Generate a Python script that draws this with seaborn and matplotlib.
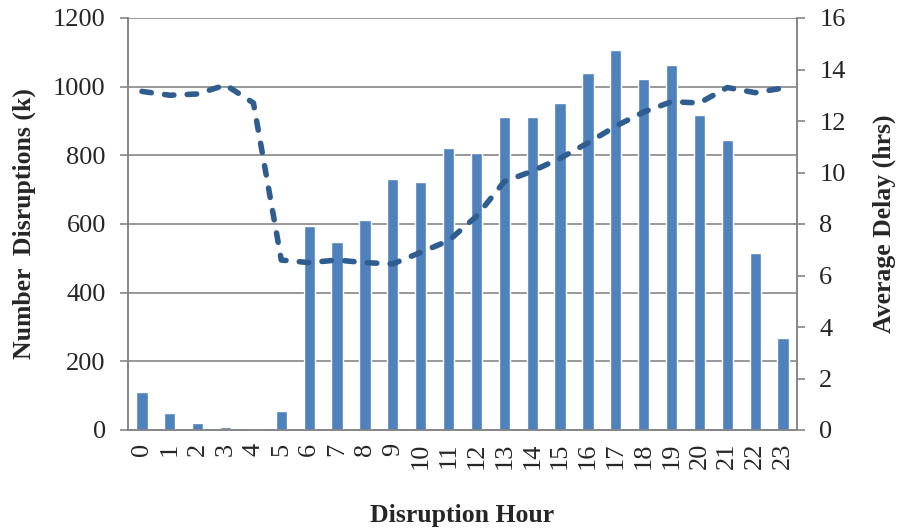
import matplotlib
matplotlib.use("Agg")
import matplotlib.pyplot as plt
import seaborn as sns
import pandas as pd

hours = list(range(24))
disruptions_k = [110, 50, 20, 8, 3, 55, 594, 549, 612, 732, 723, 821,
                 807, 912, 912, 952, 1040, 1108, 1022, 1064, 918, 845, 516, 268]
avg_delay_hrs = [13.15, 13.0, 13.05, 13.4, 12.7, 6.6, 6.5, 6.6, 6.5, 6.45, 6.9, 7.35,
                 8.3, 9.65, 10.05, 10.55, 11.15, 11.8, 12.35, 12.75, 12.7, 13.3, 13.1, 13.28]
left_ticks = [0, 200, 400, 600, 800, 1000, 1200]
right_ticks = [0, 2, 4, 6, 8, 10, 12, 14, 16]

df = pd.DataFrame({"hour": hours, "count": disruptions_k, "delay": avg_delay_hrs})

sns.set_theme(style="white")
plt.rcParams["font.family"] = ["Liberation Serif", "DejaVu Serif"]

GRAY = "#868686"
BAR = "#4F81BD"
LINE = "#2F5D8F"
TICK_FS = 19
LABEL_FS = 18.5

fig = plt.figure(figsize=(8.98, 5.31), dpi=100)
ax = fig.add_axes([128 / 898, 1 - 430 / 531, (797 - 128) / 898, (430 - 18) / 531])

sns.barplot(data=df, x="hour", y="count", color=BAR, width=0.4, saturation=1,
            ax=ax, zorder=2)
ax.set_ylim(0, 1200)
ax.set_xlim(-0.5, 23.5)
ax.set_yticks(left_ticks)
ax.yaxis.grid(True, color=GRAY, linewidth=1.2, zorder=0)
ax.set_axisbelow(True)

ax2 = ax.twinx()
sns.lineplot(x=hours, y=avg_delay_hrs, ax=ax2, color=LINE, linewidth=4,
             linestyle=(0, (1.7, 2.4)), dash_capstyle="round", zorder=3)
ax2.set_ylim(0, 16)
ax2.set_yticks(right_ticks)
ax2.set_xlim(-0.5, 23.5)

for a in (ax, ax2):
    a.spines["top"].set_visible(False)
    for s in ("left", "right", "bottom"):
        a.spines[s].set_color(GRAY)
        a.spines[s].set_linewidth(1.2)

ax.set_xticks(hours)
ax.set_xticklabels([str(h) for h in hours], rotation=90, fontsize=TICK_FS)
ax.set_xticks([h - 0.5 for h in hours] + [23.5], minor=True)
ax.tick_params(axis="x", which="major", length=0, pad=9)
ax.tick_params(axis="x", which="minor", length=6, width=1.2, color=GRAY, direction="out")
ax.tick_params(axis="y", which="major", length=6, width=1.2, color=GRAY,
               direction="out", labelsize=TICK_FS, pad=10, left=True)
ax2.tick_params(axis="y", which="major", length=6, width=1.2, color=GRAY,
                direction="out", labelsize=TICK_FS, pad=10, right=True)

ax.set_xlabel("Disruption Hour", fontsize=LABEL_FS, fontweight="bold")
ax.set_ylabel("Number  Disruptions (k)", fontsize=LABEL_FS, fontweight="bold")
ax2.set_ylabel("Average Delay (hrs)", fontsize=LABEL_FS, fontweight="bold")
ax.xaxis.set_label_coords(0.5, -0.208)
ax.xaxis.label.set_va("center")
ax.yaxis.set_label_coords(-0.155, 0.5)
ax.yaxis.label.set_va("center")
ax2.yaxis.set_label_coords(1.13, 0.5)
ax2.yaxis.label.set_va("center")

fig.savefig("out.png", dpi=100)
